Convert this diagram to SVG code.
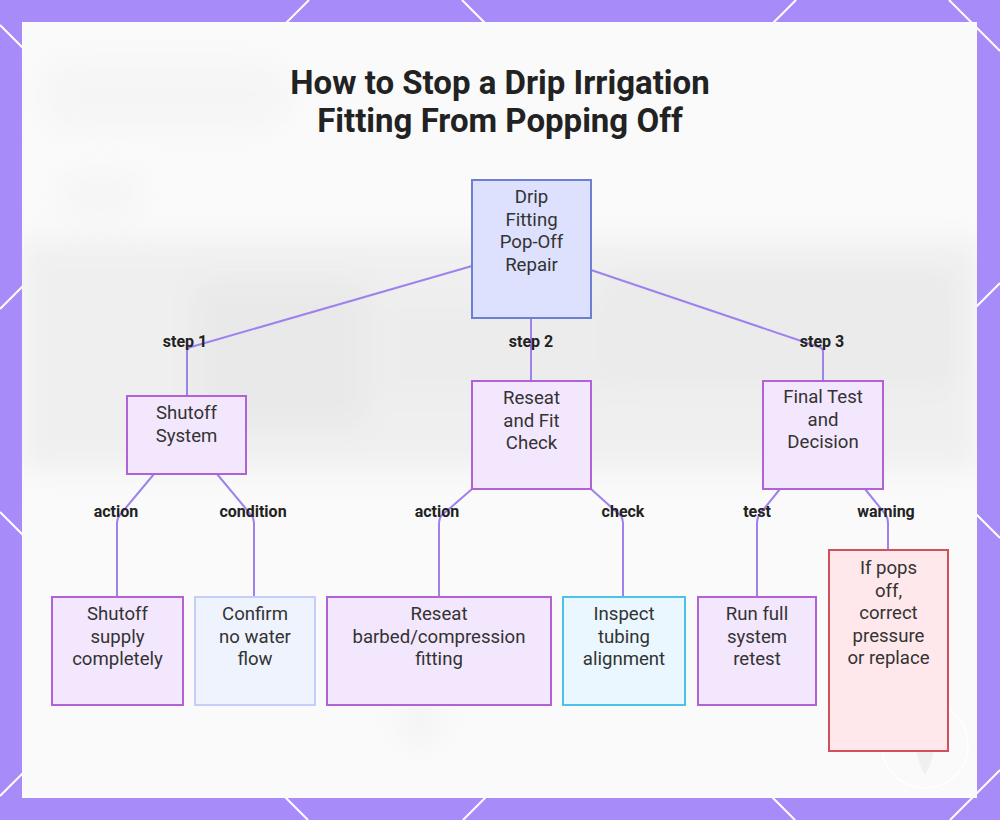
<svg xmlns="http://www.w3.org/2000/svg" width="1000" height="820" viewBox="0 0 1000 820">
  <defs>
    <style>
      .lattice { stroke: #ffffff; stroke-width: 2; fill: none; }
      .title { font-family: Roboto, "Liberation Sans", sans-serif; font-weight: 700; font-size: 33px; fill: #222222; text-anchor: middle; }
      .ntext { font-family: Roboto, "Liberation Sans", sans-serif; font-size: 18.6px; fill: #333333; text-anchor: middle; }
      .elabel { font-family: Roboto, "Liberation Sans", sans-serif; font-weight: 700; font-size: 16px; fill: #222222; text-anchor: middle; }
      .edge { stroke: #9d82ee; stroke-width: 2; fill: none; }
      .root { fill: #dde1fd; stroke: #6c7fd2; stroke-width: 2; }
      .purple { fill: #f3e7fd; stroke: #b062d6; stroke-width: 2; }
      .blue { fill: #eff3fe; stroke: #c3cff8; stroke-width: 2; }
      .cyan { fill: #eaf7fe; stroke: #4cc2e6; stroke-width: 2; }
      .red { fill: #fee8eb; stroke: #d0505c; stroke-width: 2; }
    </style>
    <filter id="blur" x="-20%" y="-20%" width="140%" height="140%">
      <feGaussianBlur stdDeviation="14"/>
    </filter>
    <clipPath id="panelClip">
      <rect x="22" y="22" width="955" height="776"/>
    </clipPath>
  </defs>

  <!-- purple frame with lattice -->
  <rect x="0" y="0" width="1000" height="820" fill="#a78bf8"/>
  <g id="lattice">
    <line class="lattice" x1="0" y1="309" x2="309" y2="0"/>
    <line class="lattice" x1="0" y1="796" x2="796" y2="0"/>
    <line class="lattice" x1="463" y1="820" x2="1000" y2="283"/>
    <line class="lattice" x1="950" y1="820" x2="1000" y2="770"/>
    <line class="lattice" x1="0" y1="512" x2="308" y2="820"/>
    <line class="lattice" x1="0" y1="25" x2="795" y2="820"/>
    <line class="lattice" x1="462" y1="0" x2="1000" y2="538"/>
    <line class="lattice" x1="949" y1="0" x2="1000" y2="51"/>
  </g>

  <!-- panel with faint blurred backdrop -->
  <rect x="22" y="22" width="955" height="776" fill="#fafafa"/>
  <g clip-path="url(#panelClip)">
    <g filter="url(#blur)" opacity="0.75">
      <rect x="20" y="240" width="960" height="230" fill="#ececec"/>
      <rect x="190" y="280" width="180" height="150" rx="20" fill="#e4e4e4"/>
      <rect x="600" y="270" width="360" height="120" rx="20" fill="#e6e6e6"/>
      <rect x="380" y="300" width="220" height="100" fill="#e8e8e8"/>
      <rect x="40" y="60" width="250" height="70" rx="30" fill="#f4f4f4"/>
      <rect x="60" y="170" width="80" height="50" rx="20" fill="#f4f4f4"/>
      <circle cx="420" cy="720" r="25" fill="#f3f3f3"/>
    </g>
  </g>

  <!-- watermark -->
  <g id="watermark">
    <circle cx="925" cy="745" r="43" fill="none" stroke="#ffffff" stroke-width="1.5" opacity="0.9"/>
    <path d="M925,713 Q943,744 925,775 Q907,744 925,713 Z" fill="#f0f0f0"/>
  </g>

  <!-- title -->
  <g id="title">
    <text class="title" x="500" y="94">How to Stop a Drip Irrigation</text>
    <text class="title" x="500" y="132">Fitting From Popping Off</text>
  </g>

  <!-- connectors -->
  <g id="connectors">
    <path class="edge" d="M472,266 L191,347 Q187,348 187,352 L187,396"/>
    <path class="edge" d="M531,318 L531,381"/>
    <path class="edge" d="M591,270 L819,347 Q823,348 823,352 L823,381"/>

    <path class="edge" d="M154,474 L119,516 Q117,519 117,523 L117,597"/>
    <path class="edge" d="M217,474 L252,516 Q254,519 254,523 L254,597"/>
    <path class="edge" d="M472,489 L441,516 Q439,519 439,523 L439,597"/>
    <path class="edge" d="M591,489 L621,516 Q623,519 623,523 L623,597"/>
    <path class="edge" d="M780,489 L759,515 Q757,519 757,523 L757,597"/>
    <path class="edge" d="M865,489 L886,515 Q888,519 888,523 L888,550"/>

    <text class="elabel" x="185" y="347">step 1</text>
    <text class="elabel" x="531" y="347">step 2</text>
    <text class="elabel" x="822" y="347">step 3</text>
    <text class="elabel" x="116" y="517">action</text>
    <text class="elabel" x="253" y="517">condition</text>
    <text class="elabel" x="437" y="517">action</text>
    <text class="elabel" x="623" y="517">check</text>
    <text class="elabel" x="757" y="517">test</text>
    <text class="elabel" x="886" y="517">warning</text>
  </g>

  <!-- nodes -->
  <g id="node-root">
    <rect class="root" x="472" y="180" width="119" height="138"/>
    <text class="ntext" x="531.5" y="203">Drip</text>
    <text class="ntext" x="531.5" y="225.5">Fitting</text>
    <text class="ntext" x="531.5" y="248">Pop-Off</text>
    <text class="ntext" x="531.5" y="270.5">Repair</text>
  </g>

  <g id="node-shutoff-system">
    <rect class="purple" x="127" y="396" width="119" height="78"/>
    <text class="ntext" x="186.5" y="419">Shutoff</text>
    <text class="ntext" x="186.5" y="442">System</text>
  </g>

  <g id="node-reseat-fit">
    <rect class="purple" x="472" y="381" width="119" height="108"/>
    <text class="ntext" x="531.5" y="404">Reseat</text>
    <text class="ntext" x="531.5" y="427">and Fit</text>
    <text class="ntext" x="531.5" y="449">Check</text>
  </g>

  <g id="node-final-test">
    <rect class="purple" x="763" y="381" width="120" height="108"/>
    <text class="ntext" x="823" y="403">Final Test</text>
    <text class="ntext" x="823" y="426">and</text>
    <text class="ntext" x="823" y="448">Decision</text>
  </g>

  <g id="node-shutoff-supply">
    <rect class="purple" x="52" y="597" width="131" height="108"/>
    <text class="ntext" x="117.5" y="620">Shutoff</text>
    <text class="ntext" x="117.5" y="643">supply</text>
    <text class="ntext" x="117.5" y="665">completely</text>
  </g>

  <g id="node-confirm">
    <rect class="blue" x="195" y="597" width="120" height="108"/>
    <text class="ntext" x="255" y="620">Confirm</text>
    <text class="ntext" x="255" y="643">no water</text>
    <text class="ntext" x="255" y="665">flow</text>
  </g>

  <g id="node-reseat-barbed">
    <rect class="purple" x="327" y="597" width="224" height="108"/>
    <text class="ntext" x="439" y="620">Reseat</text>
    <text class="ntext" x="439" y="643">barbed/compression</text>
    <text class="ntext" x="439" y="665">fitting</text>
  </g>

  <g id="node-inspect">
    <rect class="cyan" x="563" y="597" width="122" height="108"/>
    <text class="ntext" x="624" y="620">Inspect</text>
    <text class="ntext" x="624" y="643">tubing</text>
    <text class="ntext" x="624" y="665">alignment</text>
  </g>

  <g id="node-retest">
    <rect class="purple" x="698" y="597" width="118" height="108"/>
    <text class="ntext" x="757" y="620">Run full</text>
    <text class="ntext" x="757" y="643">system</text>
    <text class="ntext" x="757" y="665">retest</text>
  </g>

  <g id="node-warning">
    <rect class="red" x="829" y="550" width="119" height="201"/>
    <text class="ntext" x="888.5" y="574">If pops</text>
    <text class="ntext" x="888.5" y="597">off,</text>
    <text class="ntext" x="888.5" y="619">correct</text>
    <text class="ntext" x="888.5" y="642">pressure</text>
    <text class="ntext" x="888.5" y="664">or replace</text>
  </g>
</svg>
